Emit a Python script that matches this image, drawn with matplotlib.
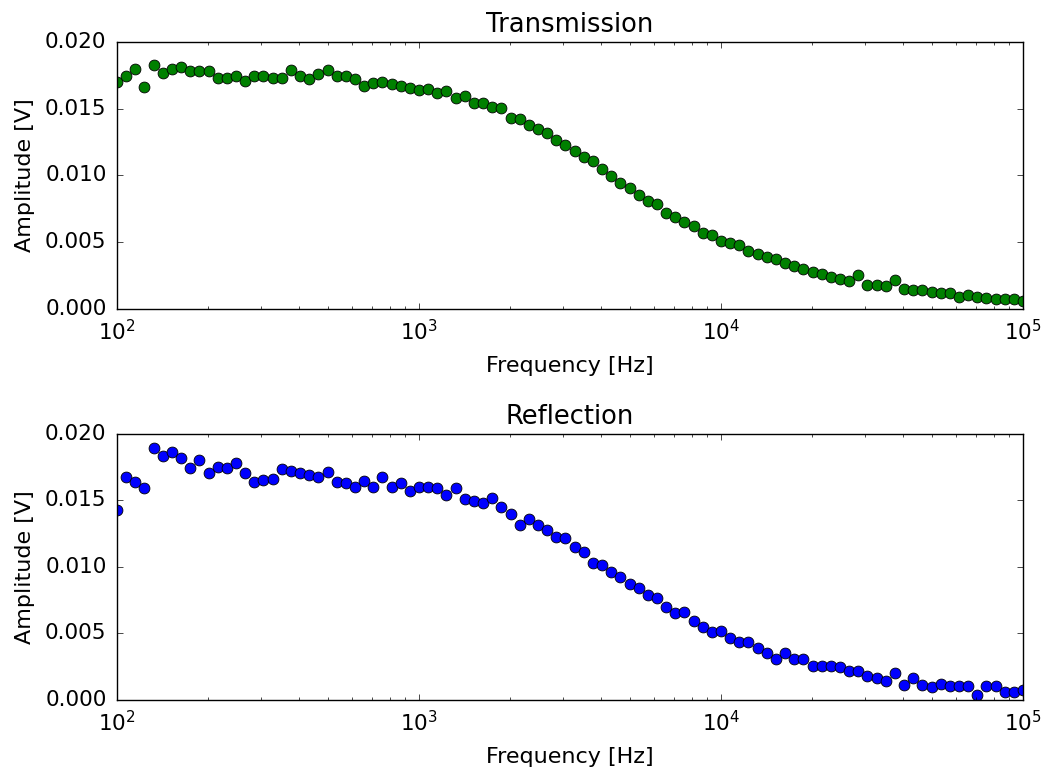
import numpy as np
import matplotlib
matplotlib.use("Agg")
import matplotlib.pyplot as plt

plt.style.use("classic")

# Frequency sweep: 100 log-spaced points from 100 Hz to 100 kHz
freq = np.logspace(2, 5, 100)

transmission = [
    0.01702, 0.01745, 0.01795, 0.01660, 0.01828, 0.01765, 0.01795, 0.01815, 0.01780, 0.01785,
    0.01785, 0.01733, 0.01733, 0.01745, 0.01710, 0.01745, 0.01745, 0.01733, 0.01733, 0.01790,
    0.01745, 0.01720, 0.01760, 0.01790, 0.01745, 0.01745, 0.01720, 0.01670, 0.01690, 0.01702,
    0.01683, 0.01670, 0.01657, 0.01640, 0.01645, 0.01620, 0.01635, 0.01578, 0.01595, 0.01540,
    0.01545, 0.01510, 0.01503, 0.01428, 0.01420, 0.01378, 0.01348, 0.01320, 0.01266, 0.01228,
    0.01186, 0.01136, 0.01108, 0.01046, 0.00996, 0.00946, 0.00904, 0.00854, 0.00811, 0.00786,
    0.00721, 0.00691, 0.00654, 0.00622, 0.00572, 0.00554, 0.00510, 0.00497, 0.00479, 0.00434,
    0.00412, 0.00392, 0.00372, 0.00342, 0.00322, 0.00297, 0.00279, 0.00262, 0.00242, 0.00222,
    0.00212, 0.00255, 0.00180, 0.00180, 0.00172, 0.00217, 0.00152, 0.00142, 0.00142, 0.00130,
    0.00122, 0.00122, 0.00092, 0.00105, 0.00092, 0.00080, 0.00073, 0.00073, 0.00073, 0.00062,
]

reflection = [
    0.01429, 0.01675, 0.01642, 0.01592, 0.01893, 0.01835, 0.01867, 0.01817, 0.01742, 0.01805,
    0.01705, 0.01755, 0.01742, 0.01785, 0.01705, 0.01642, 0.01655, 0.01660, 0.01735, 0.01725,
    0.01705, 0.01692, 0.01675, 0.01717, 0.01642, 0.01635, 0.01600, 0.01647, 0.01600, 0.01675,
    0.01600, 0.01635, 0.01571, 0.01605, 0.01605, 0.01592, 0.01542, 0.01592, 0.01509, 0.01499,
    0.01479, 0.01517, 0.01449, 0.01399, 0.01316, 0.01359, 0.01316, 0.01278, 0.01228, 0.01216,
    0.01148, 0.01115, 0.01032, 0.01015, 0.00965, 0.00923, 0.00872, 0.00840, 0.00790, 0.00765,
    0.00702, 0.00657, 0.00664, 0.00596, 0.00547, 0.00514, 0.00518, 0.00464, 0.00434, 0.00439,
    0.00389, 0.00356, 0.00306, 0.00351, 0.00308, 0.00308, 0.00256, 0.00256, 0.00256, 0.00246,
    0.00218, 0.00218, 0.00180, 0.00163, 0.00145, 0.00201, 0.00113, 0.00163, 0.00113, 0.00100,
    0.00120, 0.00105, 0.00105, 0.00105, 0.00038, 0.00105, 0.00105, 0.00063, 0.00063, 0.00075,
]

titles = ["Transmission", "Reflection"]
colors = ["g", "b"]
series = [transmission, reflection]

fig = plt.figure(figsize=(10.42, 7.70), dpi=100, facecolor="white")
positions = [
    [0.1123, 0.5987, 0.8695, 0.3468],
    [0.1123, 0.0909, 0.8695, 0.3455],
]

for pos, title, color, vals in zip(positions, titles, colors, series):
    ax = fig.add_axes(pos)
    ax.plot(freq, vals, "o", color=color, markersize=7.8, markeredgecolor="black",
            markeredgewidth=0.6)
    ax.set_xscale("log")
    ax.set_xlim(1e2, 1e5)
    ax.set_ylim(0.0, 0.020)
    ax.set_yticks([0.000, 0.005, 0.010, 0.015, 0.020])
    ax.yaxis.set_major_formatter(matplotlib.ticker.FormatStrFormatter("%.3f"))
    ax.set_title(title, fontsize=18.5, pad=7.5)
    ax.set_xlabel("Frequency [Hz]", fontsize=16, labelpad=9)
    ax.set_ylabel("Amplitude [V]", fontsize=16, labelpad=7.5)
    ax.tick_params(axis="x", which="major", labelsize=15.5, pad=7)
    ax.tick_params(axis="y", which="major", labelsize=15.5, pad=7.5)

fig.savefig("out.png", dpi=100, facecolor="white")
